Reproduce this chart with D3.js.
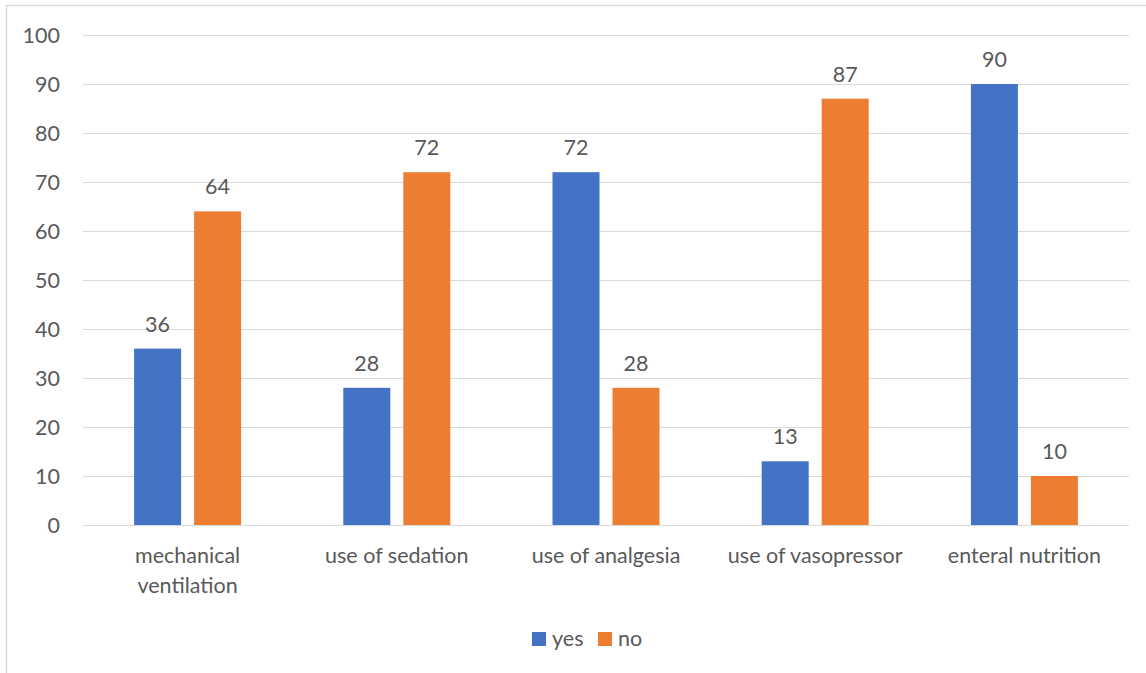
<!DOCTYPE html>
<html>
<head>
<meta charset="utf-8">
<script src="https://cdn.jsdelivr.net/npm/d3@7"></script>
<style>
  body { margin: 0; background: #fff; }
  svg text { font-family: Lato, "Open Sans", sans-serif; fill: #595959; }
</style>
</head>
<body>
<div id="chart"></div>
<script>
// Data
const categories = [["mechanical", "ventilation"], ["use of sedation"], ["use of analgesia"], ["use of vasopressor"], ["enteral nutrition"]];
const seriesNames = ["yes", "no"];
const yesValues = [36, 28, 72, 13, 90];
const noValues = [64, 72, 28, 87, 10];
const yTicks = [0, 10, 20, 30, 40, 50, 60, 70, 80, 90, 100];

const colors = { yes: "#4472C4", no: "#ED7D31" };
const width = 1146, height = 673;
const plot = { left: 83, right: 1129, top: 35, bottom: 525 };
const fontSize = 21.5;

const svg = d3.select("#chart").append("svg")
  .attr("width", width)
  .attr("height", height);

// outer chart border (cropped at right/bottom)
svg.append("rect")
  .attr("x", 6.5).attr("y", 5.5)
  .attr("width", width + 10).attr("height", height + 10)
  .attr("fill", "none")
  .attr("stroke", "#d9d9d9")
  .attr("stroke-width", 1.5);

const rows = categories.map((c, i) => ({ cat: i, label: c, yes: yesValues[i], no: noValues[i] }));

const x = d3.scaleBand()
  .domain(rows.map(d => d.cat))
  .range([plot.left, plot.right])
  .padding(0);

// inner scale: two bars 47px wide with 13px gap, centred in band
const groupWidth = 107;
const xInner = d3.scaleBand()
  .domain(seriesNames)
  .range([(x.bandwidth() - groupWidth) / 2, (x.bandwidth() + groupWidth) / 2])
  .paddingInner(13 / 60)
  .paddingOuter(0);

const y = d3.scaleLinear()
  .domain([0, 100])
  .range([plot.bottom, plot.top]);

// gridlines
const yAxis = d3.axisLeft(y).tickValues(yTicks).tickSize(-(plot.right - plot.left)).tickPadding(23);
const yAxisG = svg.append("g")
  .attr("transform", `translate(${plot.left},0)`)
  .call(yAxis);
yAxisG.select(".domain").remove();
yAxisG.selectAll(".tick line").attr("stroke", "#d9d9d9").attr("stroke-width", 1.2);
yAxisG.selectAll(".tick text")
  .attr("dy", "0.36em")
  .style("font-size", fontSize + "px")
  .attr("fill", "#595959");

// bars
const groups = svg.selectAll(".group")
  .data(rows)
  .enter()
  .append("g")
  .attr("class", "group")
  .attr("transform", d => `translate(${x(d.cat)},0)`);

groups.selectAll("rect")
  .data(d => seriesNames.map(s => ({ key: s, value: d[s] })))
  .enter()
  .append("rect")
  .attr("x", d => xInner(d.key))
  .attr("y", d => y(d.value))
  .attr("width", xInner.bandwidth())
  .attr("height", d => y(0) - y(d.value))
  .attr("fill", d => colors[d.key]);

groups.selectAll(".val")
  .data(d => seriesNames.map(s => ({ key: s, value: d[s] })))
  .enter()
  .append("text")
  .attr("class", "val")
  .attr("x", d => xInner(d.key) + xInner.bandwidth() / 2)
  .attr("y", d => y(d.value) - 17)
  .attr("text-anchor", "middle")
  .style("font-size", fontSize + "px")
  .text(d => d.value);

// category labels
const catText = svg.selectAll(".cat")
  .data(rows)
  .enter()
  .append("text")
  .attr("class", "cat")
  .attr("text-anchor", "middle")
  .attr("x", d => x(d.cat) + x.bandwidth() / 2)
  .attr("y", 563)
  .style("font-size", fontSize + "px");
catText.each(function(d) {
  const t = d3.select(this);
  d.label.forEach((line, i) => {
    t.append("tspan")
      .attr("x", x(d.cat) + x.bandwidth() / 2)
      .attr("dy", i === 0 ? 0 : 30)
      .text(line);
  });
});

// legend
const legendX = [532, 598];
const legend = svg.selectAll(".legend")
  .data(seriesNames)
  .enter()
  .append("g")
  .attr("class", "legend")
  .attr("transform", (d, i) => `translate(${legendX[i]},632)`);
legend.append("rect")
  .attr("width", 14).attr("height", 14)
  .attr("fill", d => colors[d]);
legend.append("text")
  .attr("x", 20)
  .attr("y", 14)
  .style("font-size", fontSize + "px")
  .text(d => d);
</script>
</body>
</html>
